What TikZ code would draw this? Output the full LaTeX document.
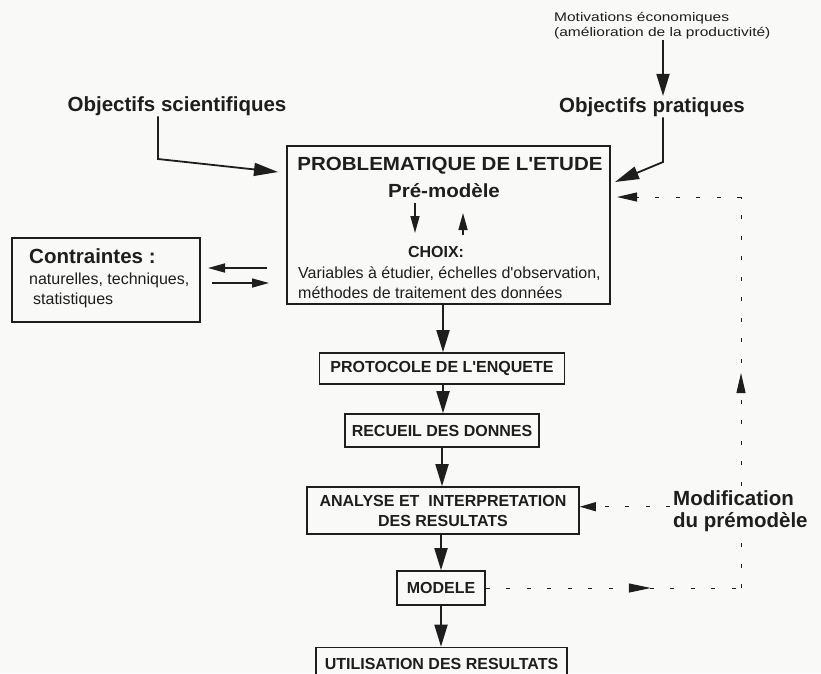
\documentclass[tikz,border=0pt]{standalone}
\usepackage{fontspec}
\setmainfont{Liberation Sans}
\newfontfamily\widefont[FakeStretch=1.08]{Liberation Sans}
\newfontfamily\spreadfont[FakeStretch=1.24]{Liberation Sans}
\usetikzlibrary{arrows.meta,decorations.markings}
\definecolor{ink}{HTML}{1E1E1E}
\definecolor{paper}{HTML}{F9F9F8}

\tikzset{
  txt/.style={inner sep=1pt, text=ink},
  big/.style={txt, font=\fontsize{20.5}{22}\selectfont\bfseries},
  widebig/.style={txt, font=\widefont\fontsize{19}{21}\selectfont\bfseries},
  small/.style={txt, font=\fontsize{16}{20}\selectfont},
  label/.style={txt, font=\fontsize{16}{20}\selectfont\bfseries},
  box/.style={draw=ink, line width=1.6pt, inner sep=0pt, text=ink, align=center,
    font=\fontsize{16}{20}\selectfont\bfseries},
  flow/.style={draw=ink, line width=1.8pt, -{Triangle[length=22pt,width=13pt]}},
  slant/.style={draw=ink, line width=1.8pt, -{Triangle[length=24pt,width=13pt]}},
  thin/.style={draw=ink, line width=1.6pt, -{Triangle[length=17pt,width=9pt]}},
  dsh/.style={draw=ink, line width=1pt, dash pattern=on 4pt off 16.5pt},
  dtip/.style={-{Triangle[length=20pt,width=9pt]}},
}

\begin{document}
\begin{tikzpicture}[x=1pt,y=-1pt]
\fill[paper] (0,0) rectangle (821,673);
\useasboundingbox (0,0) rectangle (821,673);

% --- sources at the top (base anchor = baseline of the last line)
\node[txt, anchor=base west, align=left,
      font=\spreadfont\fontsize{12.5}{14.5}\selectfont] (mot) at (553,36)
  {Motivations économiques\\(amélioration de la productivité)};
\node[big, anchor=base] (objs) at (177,111) {Objectifs scientifiques};
\node[big, anchor=base] (objp) at (652,112) {Objectifs pratiques};

% --- central box
\node[draw=ink, line width=1.7pt, minimum width=323pt, minimum height=158pt,
      inner sep=0pt] (pbox) at (448.5,225) {};
\node[widebig, anchor=base] (title) at (450,170) {PROBLEMATIQUE DE L\textquotesingle ETUDE};
\node[widebig, anchor=base] (pre) at (444,197) {Pré-modèle};
\node[label, anchor=base] (choix) at (436,257) {CHOIX:};
\node[small, anchor=base west] (var1) at (297,278)
  {Variables à étudier, échelles d\textquotesingle observation,};
\node[small, anchor=base west] (var2) at (297,298)
  {méthodes de traitement des données};

% --- constraints
\node[draw=ink, line width=1.5pt, minimum width=188pt, minimum height=84pt,
      inner sep=0pt] (cbox) at (106,280) {};
\node[big, anchor=base west] (ctitle) at (28,263) {Contraintes :};
\node[small, anchor=base west] (c1) at (28,284) {naturelles, techniques,};
\node[small, anchor=base west] (c2) at (32,304) {statistiques};

% --- procedure chain
\node[box, minimum width=245pt, minimum height=31pt] (prot) at (442,368.5)
  {PROTOCOLE DE L\textquotesingle ENQUETE};
\node[box, minimum width=194pt, minimum height=33pt] (rec) at (442,430.5)
  {RECUEIL DES DONNES};
\node[box, minimum width=272pt, minimum height=47pt] (ana) at (443,510.5)
  {ANALYSE ET\ \ INTERPRETATION\\DES RESULTATS};
\node[box, minimum width=88pt, minimum height=34pt] (modele) at (441,588)
  {MODELE};
\node[box, minimum width=251pt, minimum height=32pt] (util) at (441.5,663.5)
  {UTILISATION DES RESULTATS};

% --- arrow end points
\coordinate (ms) at (443,304);
\coordinate (sb) at (158,159);
\coordinate (st) at (278,172);
\coordinate (pb) at (663,162);
\coordinate (pt) at (615,182);
\coordinate (d1) at (415,203);
\coordinate (d2) at (415,233);
\coordinate (u1) at (463,235);
\coordinate (u2) at (463,213);
\coordinate (cl1) at (267,268);
\coordinate (cl2) at (208,268);
\coordinate (cr1) at (212,283);
\coordinate (cr2) at (269,283);
\coordinate (lt) at (741,197);
\coordinate (le) at (617,197);

% --- solid connectors
\draw[flow] (mot.south -| pb) -- (objp.north -| pb);
\draw[slant] (objs.south -| sb) -- (sb) -- (st);
\draw[slant] (objp.south -| pb) -- (pb) -- (pt);
\draw[thin] (d1) -- (d2);
\draw[thin] (u1) -- (u2);
\draw[thin] (cl1) -- (cl2);
\draw[thin] (cr1) -- (cr2);
\draw[flow] (ms) -- (prot.north -| ms);
\draw[flow] (prot.south -| ms) -- (rec.north -| ms);
\draw[flow] (rec.south) -- (ana.north -| rec.south);
\draw[flow] (ana.south -| modele.north) -- (modele.north);
\draw[flow] (modele.south) -- (util.north -| modele.south);

% --- feedback loop (dashed)
\draw[dsh, postaction={decorate}, decoration={markings,
      mark=at position 165pt with {\arrow{Triangle[length=22pt,width=9pt]}}}]
  (modele.east) -- (modele.east -| lt);
\draw[dsh, postaction={decorate}, decoration={markings,
      mark=at position 215pt with {\arrow{Triangle[length=20pt,width=9pt]}}}]
  (modele.east -| lt) -- (lt);
\draw[dsh, dtip] (lt) -- (le);

% --- feedback label, drawn over the vertical dashed line
\node[big, fill=paper, inner sep=3pt, anchor=base west, align=left] (modif) at (670,527)
  {Modification\\du prémodèle};
\draw[dsh, -{Triangle[length=16pt,width=9pt]}]
  ([yshift=4pt]modif.west) -- ([yshift=4pt]modif.west -| ana.east);
\end{tikzpicture}
\end{document}
